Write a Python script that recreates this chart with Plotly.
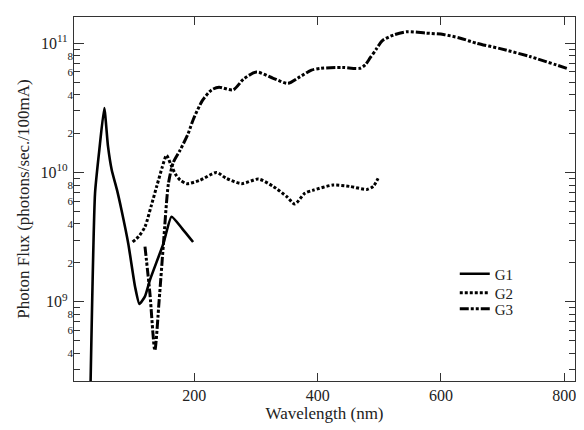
import plotly.graph_objects as go

# ---- data ----
g1_x = [31, 39, 46, 54, 60, 66, 75, 82, 93, 104, 111, 120, 128, 150, 163, 180, 198]
g1_y = [1.5e8, 6.9e9, 1.5e10, 3.15e10, 1.6e10, 1.05e10, 7.2e9, 5.1e9, 2.8e9, 1.3e9,
        9.6e8, 1.1e9, 1.47e9, 2.83e9, 4.55e9, 3.7e9, 2.9e9]

g2_x = [100, 110, 120, 130, 139, 148, 155, 162, 170, 177, 188, 209, 236, 252, 277,
        304, 328, 350, 363, 379, 393, 425, 452, 480, 490, 498]
g2_y = [2.9e9, 3.2e9, 3.8e9, 5.5e9, 7.8e9, 1.1e10, 1.36e10, 1.15e10, 9.6e9, 8.75e9,
        8.2e9, 8.7e9, 1.0e10, 9.0e9, 8.2e9, 8.9e9, 7.8e9, 6.5e9, 5.7e9, 6.9e9, 7.3e9,
        8.0e9, 7.8e9, 7.4e9, 7.8e9, 9.0e9]

g3_x = [120, 128, 136, 143, 150, 158, 166, 177, 190, 198, 213, 228, 240, 263, 280,
        301, 328, 352, 371, 390, 405, 440, 468, 477, 485, 495, 505, 523, 545, 575,
        604, 630, 658, 696, 744, 804]
g3_y = [2.67e9, 1.16e9, 4.2e8, 1.03e9, 2.83e9, 8.2e9, 1.2e10, 1.49e10, 2.0e10, 2.55e10,
        3.6e10, 4.36e10, 4.57e10, 4.36e10, 5.3e10, 6.0e10, 5.36e10, 4.9e10, 5.5e10,
        6.2e10, 6.4e10, 6.5e10, 6.4e10, 6.8e10, 7.7e10, 9.0e10, 1.05e11, 1.16e11,
        1.23e11, 1.2e11, 1.17e11, 1.1e11, 1.0e11, 9.1e10, 7.9e10, 6.4e10]

series_names = ["G1", "G2", "G3"]

x_ticks = [200, 400, 600, 800]
y_decades = [1e9, 1e10, 1e11]
y_decade_text = ["10<sup>9</sup>", "10<sup>10</sup>", "10<sup>11</sup>"]
y_minor_vals = [m * d for d in [1e8, 1e9, 1e10, 1e11] for m in range(2, 10)]
y_label_vals = [4e8, 6e8, 8e8, 2e9, 4e9, 6e9, 8e9, 2e10, 4e10, 6e10, 8e10]
y_label_text = ["4", "6", "8", "2", "4", "6", "8", "2", "4", "6", "8"]

# ---- figure ----
# The page body has an 8px margin, so the figure is sized to the visible window.
FONT = "Liberation Serif, Times New Roman, serif"
YR = [8.3862, 11.2036]
XR = [4.9, 817.3]

fig = go.Figure()
fig.add_trace(go.Scatter(x=g1_x, y=g1_y, mode="lines", name=series_names[0],
                         legend="legend",
                         line=dict(color="black", width=2.6, shape="spline", smoothing=0.5)))
fig.add_trace(go.Scatter(x=g2_x, y=g2_y, mode="lines", name=series_names[1],
                         legend="legend2",
                         line=dict(color="black", width=3, dash="3px,2px",
                                   shape="spline", smoothing=0.7)))
fig.add_trace(go.Scatter(x=g3_x, y=g3_y, mode="lines", name=series_names[2],
                         legend="legend3",
                         line=dict(color="black", width=3,
                                   dash="9px,2px,3px,2px,3px,2px",
                                   shape="spline", smoothing=0.7)))
# helper trace so the label axis is drawn
fig.add_trace(go.Scatter(x=[None], y=[None], yaxis="y2", showlegend=False,
                         hoverinfo="skip"))

leg_common = dict(x=0.76, xanchor="left", yanchor="middle",
                  bgcolor="rgba(0,0,0,0)", borderwidth=0,
                  font=dict(family=FONT, size=15, color="#222"), itemwidth=30)

fig.update_layout(
    width=576, height=422,
    margin=dict(l=66, r=9, t=9, b=49),
    paper_bgcolor="white", plot_bgcolor="white",
    font=dict(family=FONT, color="#222", size=16),
    showlegend=True,
    legend=dict(y=0.294, **leg_common),
    legend2=dict(y=0.242, **leg_common),
    legend3=dict(y=0.198, **leg_common),
    xaxis=dict(range=XR, tickvals=x_ticks, ticks="inside", ticklen=8, tickwidth=1,
               tickcolor="#333", showline=True, linecolor="#333", linewidth=1.2,
               mirror="ticks", showgrid=False, zeroline=False,
               tickfont=dict(family=FONT, size=16, color="#222"),
               title=dict(text="Wavelength (nm)", standoff=2,
                          font=dict(family=FONT, size=17, color="#222"))),
    yaxis=dict(type="log", range=YR, tickvals=y_decades, ticktext=y_decade_text,
               ticks="inside", ticklen=10, tickwidth=1, tickcolor="#333",
               minor=dict(tickvals=y_minor_vals, ticks="inside", ticklen=6,
                          tickcolor="#333", tickwidth=1, showgrid=False),
               showline=True, linecolor="#333", linewidth=1.2, mirror="ticks",
               showgrid=False, zeroline=False, ticklabelstandoff=2,
               tickfont=dict(family=FONT, size=16, color="#222"),
               title=dict(text="Photon Flux (photons/sec./100mA)", standoff=6,
                          font=dict(family=FONT, size=17, color="#222"))),
    yaxis2=dict(type="log", range=YR, overlaying="y", side="left", anchor="x",
                tickvals=y_label_vals, ticktext=y_label_text, ticks="",
                showline=False, showgrid=False, zeroline=False,
                ticklabelstandoff=0,
                tickfont=dict(family=FONT, size=11, color="#222")),
)

fig.write_html("out.html")
